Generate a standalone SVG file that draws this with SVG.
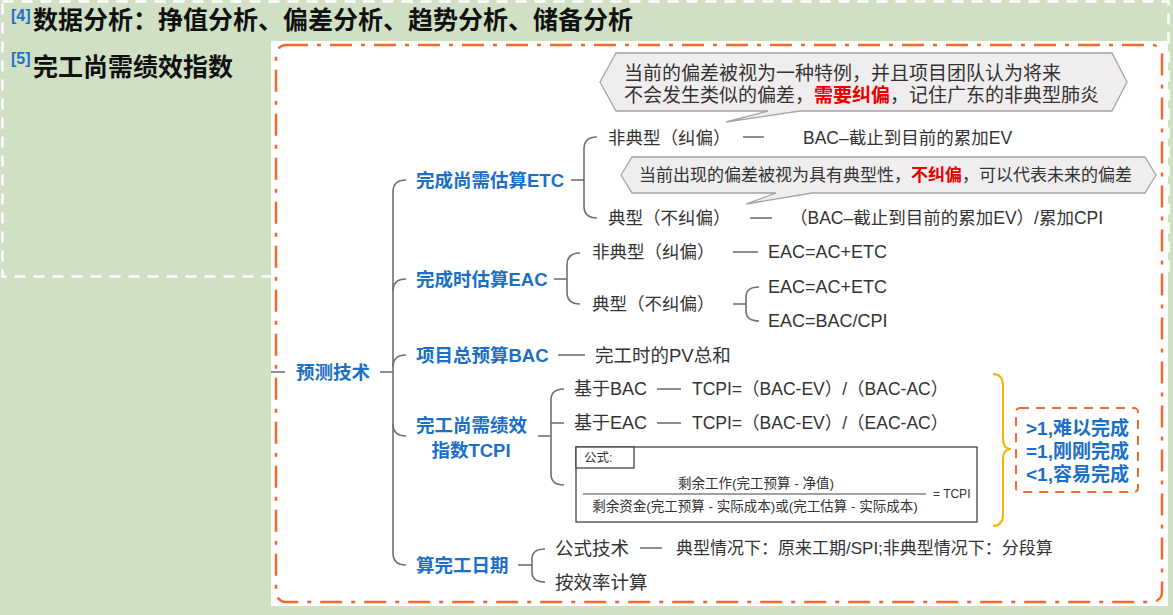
<svg xmlns="http://www.w3.org/2000/svg" width="1173" height="615" viewBox="0 0 1173 615">
<style>
text{dominant-baseline:central;font-family:"Liberation Sans","Noto Sans CJK SC",sans-serif;}
.t{font-family:"Noto Sans CJK SC",sans-serif;font-weight:bold;fill:#111;font-size:25px;}
.sup{font-family:"Liberation Sans",sans-serif;fill:#1f70c8;font-size:16px;font-weight:bold;}
.b{font-weight:bold;fill:#1a6fc8;font-size:18.5px;}
.s{fill:#333;font-size:17.5px;}
.m{fill:#333;font-size:18px;}
.c{fill:#333;font-size:19px;}
.r{fill:#e60000;font-weight:bold;}
.f{fill:#333;font-size:13.5px;}
.ln{fill:none;stroke:#707070;stroke-width:1.6;}
.call{fill:#efeded;stroke:#a9a3a3;stroke-width:1.3;}
</style>
<rect x="0" y="0" width="1173" height="615" fill="#d0e0c4"/>
<rect x="2.5" y="1.5" width="1166" height="275" fill="none" stroke="#ffffff" stroke-width="2.5" stroke-dasharray="11,8"/>
<rect x="271" y="41" width="897" height="565" fill="#ffffff"/>
<rect x="276" y="45" width="886" height="557" rx="10" fill="none" stroke="#f26a2e" stroke-width="2.5" stroke-dasharray="22,9,4,9"/>

<g id="title">
<text class="sup" x="11" y="15">[4]</text>
<text class="t" x="33" y="18">数据分析：挣值分析、偏差分析、趋势分析、储备分析</text>
<text class="sup" x="11" y="58">[5]</text>
<text class="t" x="33" y="65">完工尚需绩效指数</text>
</g>

<g id="connectors">
<path class="ln" d="M271,372 H285"/>
<path class="ln" d="M380,372 H393"/>
<path class="ln" d="M406,180 Q393,180 393,192 V553 Q393,565 406,565"/>
<path class="ln" d="M393,291 Q393,279 406,279"/>
<path class="ln" d="M393,367 Q393,355 406,355"/>
<path class="ln" d="M393,424 Q393,436 406,436"/>
<path class="ln" d="M571,180 H584"/>
<path class="ln" d="M597,137 Q584,137 584,149 V206 Q584,218 597,218"/>
<path class="ln" d="M743,137 H764"/>
<path class="ln" d="M750,218 H772"/>
<path class="ln" d="M554,279 H567"/>
<path class="ln" d="M580,253 Q567,253 567,265 V292 Q567,304 580,304"/>
<path class="ln" d="M733,252 H758"/>
<path class="ln" d="M733,304 H746"/>
<path class="ln" d="M759,287 Q746,287 746,297 V311 Q746,321 759,321"/>
<path class="ln" d="M558,355 H585"/>
<path class="ln" d="M538,436 H551"/>
<path class="ln" d="M564,389 Q551,389 551,400 V474 Q551,485 564,485"/>
<path class="ln" d="M551,423 H564"/>
<path class="ln" d="M657,389 H681"/>
<path class="ln" d="M657,423 H681"/>
<path class="ln" d="M518,565 H532"/>
<path class="ln" d="M545,549 Q532,549 532,559 V572 Q532,582 545,582"/>
<path class="ln" d="M640,548 H662"/>
<path d="M993,374 Q1003,374 1003,386 V438 Q1003,449 1011,449 Q1003,449 1003,460 V514 Q1003,526 993,526" fill="none" stroke="#f5b400" stroke-width="2"/>
</g>

<g id="root">
<text class="b" x="296" y="372">预测技术</text>
</g>

<g id="etc">
<text class="b" x="416" y="180">完成尚需估算ETC</text>
<path class="call" d="M600,82 L616,53 H1112 L1127,82 L1112,111 H800 L726,122 L768,111 H616 Z"/>
<text class="c" x="624" y="73">当前的偏差被视为一种特例，并且项目团队认为将来</text>
<text class="c" x="624" y="95">不会发生类似的偏差，<tspan class="r">需要纠偏</tspan>，记住广东的非典型肺炎</text>
<text class="s" x="608" y="138">非典型（纠偏）</text>
<text class="s" x="803" y="138">BAC–截止到目前的累加EV</text>
<path class="call" d="M621,175 L632,157 H1145 L1156,175 L1145,193 H812 L746,204 L776,193 H632 Z"/>
<text class="s" x="639" y="175" style="font-size:17px">当前出现的偏差被视为具有典型性，<tspan class="r">不纠偏</tspan>，可以代表未来的偏差</text>
<text class="s" x="608" y="218">典型（不纠偏）</text>
<text class="s" x="790" y="218">（BAC–截止到目前的累加EV）/累加CPI</text>
</g>

<g id="eac">
<text class="b" x="416" y="279">完成时估算EAC</text>
<text class="s" x="592" y="252">非典型（纠偏）</text>
<text class="m" x="768" y="252">EAC=AC+ETC</text>
<text class="s" x="592" y="304">典型（不纠偏）</text>
<text class="m" x="768" y="287">EAC=AC+ETC</text>
<text class="m" x="768" y="321">EAC=BAC/CPI</text>
</g>

<g id="bac">
<text class="b" x="416" y="355">项目总预算BAC</text>
<text class="m" x="595" y="355" style="font-size:18.5px">完工时的PV总和</text>
</g>

<g id="tcpi">
<text class="b" x="416" y="425">完工尚需绩效</text>
<text class="b" x="471" y="450" text-anchor="middle">指数TCPI</text>
<text class="m" x="574" y="389">基于BAC</text>
<text class="m" x="692" y="389" style="font-size:17.5px">TCPI=（BAC-EV）/（BAC-AC）</text>
<text class="m" x="574" y="423">基于EAC</text>
<text class="m" x="692" y="423" style="font-size:17.5px">TCPI=（BAC-EV）/（EAC-AC）</text>
<rect x="576" y="447" width="401" height="75" fill="#fff" stroke="#444" stroke-width="1.3"/>
<rect x="576" y="447" width="58" height="21" fill="#fff" stroke="#444" stroke-width="1.3"/>
<text class="f" x="584" y="458" style="font-size:12.5px">公式:</text>
<text class="f" x="756" y="483" text-anchor="middle">剩余工作(完工预算 - 净值)</text>
<line x1="583" y1="494" x2="926" y2="494" stroke="#444" stroke-width="1.2"/>
<text class="f" x="755" y="506" text-anchor="middle">剩余资金(完工预算 - 实际成本)或(完工估算 - 实际成本)</text>
<text class="f" x="933" y="494" style="font-size:12px">= TCPI</text>
</g>

<g id="legend">
<rect x="1016" y="408" width="122" height="84" rx="4" fill="none" stroke="#f26a2e" stroke-width="2" stroke-dasharray="9,7"/>
<text class="b" x="1026" y="428" style="font-size:19px">&gt;1,难以完成</text>
<text class="b" x="1026" y="451" style="font-size:19px">=1,刚刚完成</text>
<text class="b" x="1026" y="474" style="font-size:19px">&lt;1,容易完成</text>
</g>

<g id="date">
<text class="b" x="416" y="565">算完工日期</text>
<text class="m" x="555" y="548" style="font-size:18.5px">公式技术</text>
<text class="m" x="676" y="548" style="font-size:17px">典型情况下：原来工期/SPI;非典型情况下：分段算</text>
<text class="m" x="555" y="582" style="font-size:18.5px">按效率计算</text>
</g>
</svg>
